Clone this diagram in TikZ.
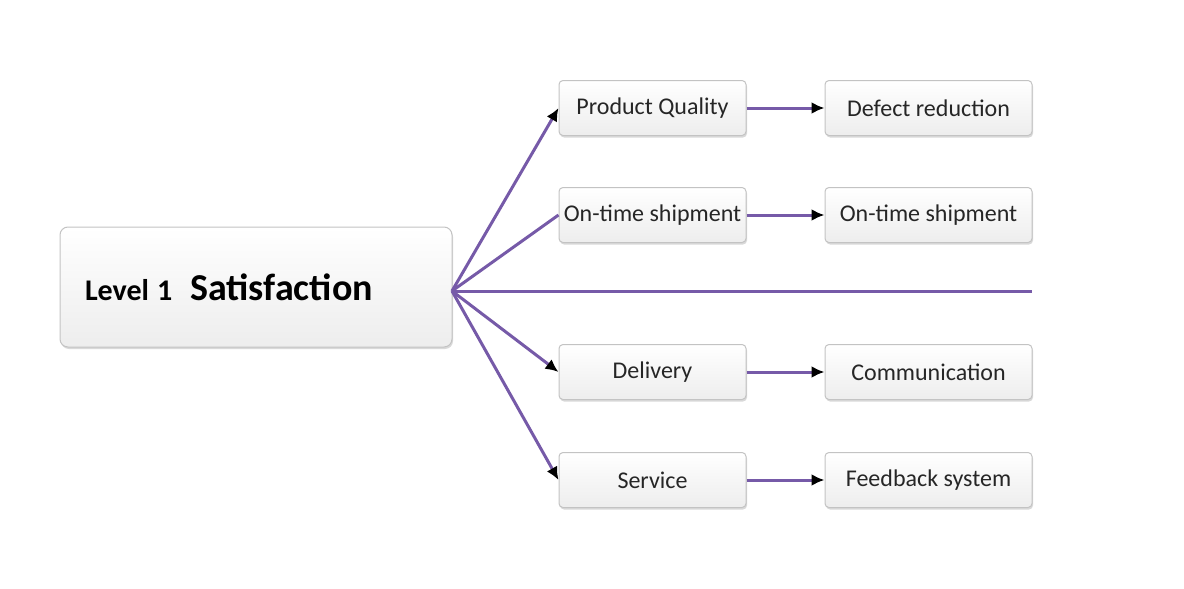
\documentclass[tikz,border=0pt]{standalone}
\usepackage{fontspec}
\setmainfont{Carlito}
\usetikzlibrary{positioning,arrows.meta,shadows}
\definecolor{LinkPurple}{RGB}{118,90,168}
\definecolor{BoxEdge}{RGB}{195,195,195}
\tikzset{
  box/.style={draw=BoxEdge,line width=1pt,rounded corners=4pt,top color=white,bottom color=black!7,
    minimum height=55pt,inner sep=0pt,font=\fontsize{24}{28}\selectfont,text=black!85,
    drop shadow={opacity=0.3,shadow xshift=1pt,shadow yshift=-2pt}},
  leftbox/.style={box,minimum width=187pt},
  rightbox/.style={box,minimum width=207pt},
  mainbox/.style={box,minimum height=120pt,text width=342pt,inner xsep=25pt,align=left,
    rounded corners=8pt,text=black},
  link/.style={draw=LinkPurple,line width=3pt},
  tip/.style={link,-{Latex[color=black,length=13pt,width=12pt]}},
}

\begin{document}
\begin{tikzpicture}[x=1pt,y=-1pt]
\useasboundingbox (0,0) rectangle (1184,589);
\node[mainbox] (main) at (256,287)
  {\bfseries\fontsize{30}{36}\selectfont Level 1\hspace{18pt}{\fontsize{38}{44}\selectfont Satisfaction}};
\coordinate (hub) at (452,291);
\coordinate (end) at (1032,291);
\node[leftbox] (quality) at (652.5,108) {Product Quality};
\node[leftbox] (ship) at (652.5,215) {On-time shipment};
\node[leftbox] (delivery) at (652.5,372) {Delivery};
\node[leftbox] (service) at (652.5,480) {Service};
\node[rightbox] (defect) at (928.5,108) {Defect reduction};
\node[rightbox] (ship2) at (928.5,215) {On-time shipment};
\node[rightbox] (comm) at (928.5,372) {Communication};
\node[rightbox] (feedback) at (928.5,480) {Feedback system};
\draw[tip] (hub) -- (quality.west);
\draw[link] (hub) -- (ship.west);
\draw[link] (hub) -- (end);
\draw[tip] (hub) -- (delivery.west);
\draw[tip] (hub) -- (service.west);
\draw[tip] (quality) -- (defect);
\draw[tip] (ship) -- (ship2);
\draw[tip] (delivery) -- (comm);
\draw[tip] (service) -- (feedback);
\end{tikzpicture}
\end{document}
